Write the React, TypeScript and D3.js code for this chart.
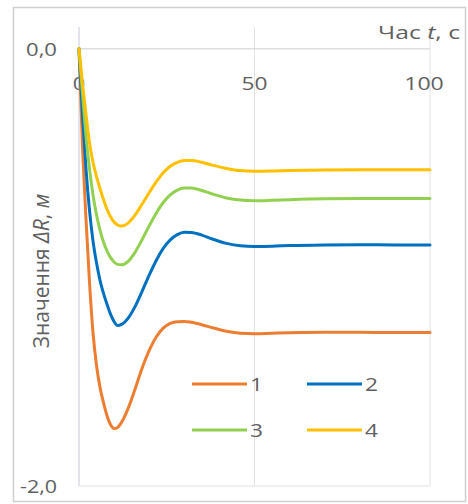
import React from "react";
import * as d3 from "d3";

const times = [0,1,2,3,4,5,6,7,8,9,10,11,12,14,16,18,20,22,24,26,28,30,32,35,38,42,46,50,55,60,70,80,90,100];

const series1 = [0,-0.45,-0.78,-1.07,-1.30,-1.45,-1.55,-1.62,-1.68,-1.72,-1.737,-1.732,-1.712,-1.645,-1.555,-1.46,-1.38,-1.318,-1.278,-1.256,-1.248,-1.247,-1.251,-1.262,-1.276,-1.292,-1.301,-1.303,-1.301,-1.299,-1.297,-1.297,-1.298,-1.298];
const series2 = [0,-0.30,-0.55,-0.74,-0.88,-0.98,-1.06,-1.12,-1.17,-1.215,-1.248,-1.266,-1.262,-1.232,-1.178,-1.108,-1.035,-0.968,-0.913,-0.874,-0.850,-0.839,-0.840,-0.852,-0.870,-0.890,-0.901,-0.904,-0.903,-0.900,-0.897,-0.896,-0.897,-0.897];
const series3 = [0,-0.21,-0.40,-0.55,-0.67,-0.76,-0.83,-0.885,-0.925,-0.955,-0.975,-0.986,-0.988,-0.972,-0.930,-0.872,-0.810,-0.752,-0.703,-0.668,-0.646,-0.637,-0.637,-0.648,-0.664,-0.682,-0.692,-0.695,-0.693,-0.690,-0.686,-0.685,-0.685,-0.685];
const series4 = [0,-0.16,-0.30,-0.43,-0.52,-0.585,-0.64,-0.69,-0.735,-0.768,-0.792,-0.806,-0.811,-0.797,-0.760,-0.710,-0.658,-0.609,-0.567,-0.537,-0.519,-0.511,-0.511,-0.519,-0.532,-0.547,-0.557,-0.560,-0.559,-0.557,-0.554,-0.553,-0.553,-0.553];

const seriesNames = ["1", "2", "3", "4"];
const seriesColors = ["#ED7D31", "#0070C0", "#92D050", "#FFC000"];
const xTicks = [0, 50, 100];
const yTicks = [0, -2];
const yTickLabels = ["0,0", "-2,0"];

export default function App() {
  const W = 468, H = 504;
  const x = d3.scaleLinear().domain([0, 100]).range([79, 430]);
  const y = d3.scaleLinear().domain([-2, 0.1]).range([486, 27]);
  const all = [series1, series2, series3, series4];
  const line = d3.line<number>()
    .x((_, i) => x(times[i]))
    .y((d) => y(d))
    .curve(d3.curveMonotoneX);
  const font = "'Open Sans', 'Noto Sans', sans-serif";
  const textColor = "#5f5f5f";
  const legendPos = [
    { lx: 192, ly: 384 },
    { lx: 307, ly: 384 },
    { lx: 192, ly: 430 },
    { lx: 307, ly: 430 },
  ];
  const digitW = 13.5;
  return (
    <svg width={W} height={H} style={{ position: "absolute", left: 0, top: 0 }} fontFamily={font}>
      <rect x={0} y={0} width={W} height={H} fill="#fff" />
      <rect x={13.5} y={7.5} width={452} height={494} fill="#fff" stroke="#d0d0d0" strokeWidth={1.5} />
      {/* vertical gridlines */}
      {xTicks.map((t) => (
        <line key={"gx" + t} x1={x(t)} x2={x(t)} y1={y(0.1)} y2={y(-2)} stroke={t === 0 ? "#c8c8d8" : "#e2e2e2"} strokeWidth={1} />
      ))}
      {/* horizontal gridline at -2 and axis at 0 */}
      <line x1={x(0)} x2={x(100)} y1={y(-2)} y2={y(-2)} stroke="#e2e2e2" strokeWidth={1} />
      <line x1={x(0)} x2={x(100)} y1={y(0)} y2={y(0)} stroke="#cfcfcf" strokeWidth={1} />
      {/* y tick labels */}
      {yTicks.map((v, i) => (
        <text key={"yt" + v} x={57} y={y(v) + 7} textAnchor="end" fontSize={19} fill={textColor}
          textLength={i === 0 ? 31 : 37} lengthAdjust="spacingAndGlyphs">{yTickLabels[i]}</text>
      ))}
      {/* x tick labels */}
      {xTicks.map((t) => (
        <text key={"xt" + t} x={x(t) - (t === 100 ? 6 : 0)} y={90} textAnchor="middle" fontSize={19} fill={textColor}
          textLength={String(t).length * digitW - 1} lengthAdjust="spacingAndGlyphs">{t}</text>
      ))}
      {/* series */}
      {all.map((s, i) => (
        <path key={"s" + i} d={line(s) || ""} fill="none" stroke={seriesColors[i]} strokeWidth={3} strokeLinejoin="round" strokeLinecap="round" />
      ))}
      {/* x axis title */}
      <text x={460} y={39} textAnchor="end" fontSize={19} fill={textColor} textLength={82} lengthAdjust="spacingAndGlyphs">
        Час <tspan fontStyle="italic">t</tspan>, с
      </text>
      {/* y axis title */}
      <text transform="translate(49,271) rotate(-90)" textAnchor="middle" fontSize={21} fill={textColor}>
        Значення <tspan fontStyle="italic">ΔR</tspan>, <tspan fontStyle="italic">м</tspan>
      </text>
      {/* legend */}
      {seriesNames.map((n, i) => (
        <g key={"lg" + i}>
          <line x1={legendPos[i].lx} x2={legendPos[i].lx + 55} y1={legendPos[i].ly} y2={legendPos[i].ly} stroke={seriesColors[i]} strokeWidth={3} />
          <text x={legendPos[i].lx + 58} y={legendPos[i].ly + 7} fontSize={19} fill={textColor}
            textLength={13} lengthAdjust="spacingAndGlyphs">{n}</text>
        </g>
      ))}
    </svg>
  );
}
